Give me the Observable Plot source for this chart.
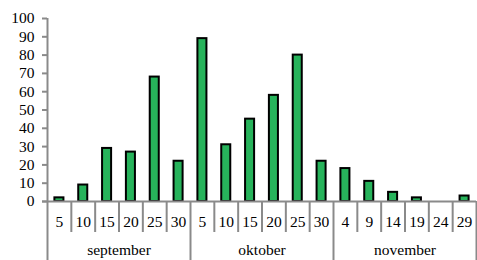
<!DOCTYPE html>
<html>
<head>
<meta charset="utf-8">
<script src="https://cdn.jsdelivr.net/npm/d3@7"></script>
<script src="https://cdn.jsdelivr.net/npm/@observablehq/plot@0.6"></script>
<style>
  html, body { margin: 0; padding: 0; background: #fff; }
  svg { display: block; }
</style>
</head>
<body>
<div id="chart"></div>
<script>
const months = ["september", "oktober", "november"];
const days = [
  [5, 10, 15, 20, 25, 30],
  [5, 10, 15, 20, 25, 30],
  [4, 9, 14, 19, 24, 29]
];
const values = [
  [2, 9, 29, 27, 68, 22],
  [89, 31, 45, 58, 80, 22],
  [18, 11, 5, 2, 0, 3]
];
const yTicks = [0, 10, 20, 30, 40, 50, 60, 70, 80, 90, 100];

const rows = [];
const groups = [];
months.forEach((m, g) => {
  const start = rows.length;
  days[g].forEach((d, k) => {
    rows.push({i: rows.length, month: m, day: d, v: values[g][k]});
  });
  groups.push({month: m, start, end: rows.length});
});
const n = rows.length;
const boundaries = d3.range(0, n + 1);
const monthBounds = groups.map(g => g.end);
const dayBounds = boundaries.filter(b => b !== 0 && !monthBounds.includes(b));

const axisColor = "#8a8a8a";
const serif = "Liberation Serif";

const chart = Plot.plot({
  width: 477,
  height: 260,
  marginLeft: 47,
  marginRight: 1,
  marginTop: 18,
  marginBottom: 59,
  style: {color: "#000", background: "#fff", fontFamily: serif, fontSize: "15.5px"},
  x: {type: "linear", domain: [0, n], axis: null},
  y: {domain: [0, 100], ticks: yTicks, tickSize: 5, tickPadding: 8, label: null, tickFormat: d => d},
  marks: [
    Plot.rectY(rows.filter(d => d.v > 0), {
      x1: "i", x2: d => d.i + 1, y1: 0, y2: "v",
      insetLeft: 7.4, insetRight: 7.4,
      fill: "#27b35b", stroke: "#000", strokeWidth: 2
    }),
    Plot.ruleX(dayBounds, {x: d => d, y1: 0, y2: 0, insetBottom: -31, stroke: axisColor, strokeWidth: 2}),
    Plot.ruleX(monthBounds, {x: d => d, y1: 0, y2: 0, insetBottom: -59, stroke: axisColor, strokeWidth: 2}),
    Plot.ruleX([0], {x: d => d, y1: 100, y2: 0, insetBottom: -59, stroke: axisColor, strokeWidth: 2}),
    Plot.ruleY([0], {insetLeft: -5, stroke: axisColor, strokeWidth: 2}),
    Plot.text(rows, {x: d => d.i + 0.5, y: 0, text: d => String(d.day), dy: 21, fill: "#000", fontFamily: serif}),
    Plot.text(groups, {x: d => (d.start + d.end) / 2, y: 0, text: "month", dy: 49, fill: "#000", fontFamily: serif})
  ]
});

const sel = d3.select(chart);
sel.selectAll("g[aria-label='y-axis'] path, g[aria-label='y-axis tick'] path")
  .attr("stroke", axisColor).attr("stroke-width", 2);
sel.selectAll("text").attr("font-family", serif);
document.getElementById("chart").appendChild(chart);
</script>
</body>
</html>
